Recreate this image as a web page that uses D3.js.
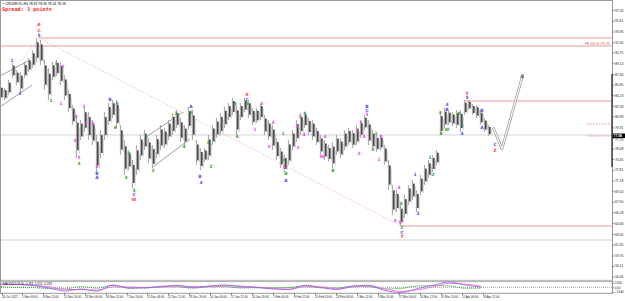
<!DOCTYPE html>
<html><head><meta charset="utf-8">
<script src="https://cdn.jsdelivr.net/npm/d3@7/dist/d3.min.js"></script>
<style>
body{margin:0;background:#fff;}
svg{display:block;font-family:"DejaVu Sans",sans-serif;}
</style>
</head><body>
<svg id="c" width="625" height="301"></svg>
<script>
// ---------- DATA ----------
const symbolInfo = "CRUDEOIL,H4  78.33 78.36 78.24 78.28";
const spreadText = "Spread: 3 points";
const barHigh = [85.79,85.33,86.55,89.15,88.08,87.77,89.30,89.92,91.14,92.98,92.67,89.61,88.39,89.30,89.61,89.30,87.32,85.02,82.73,81.20,
80.43,82.27,81.65,80.43,78.14,78.90,81.65,83.03,83.49,83.49,79.67,77.37,75.84,74.31,76.61,78.14,78.90,77.68,76.61,78.14,
79.67,79.21,80.43,81.50,81.96,80.74,79.67,82.42,81.96,77.37,76.15,76.15,78.14,79.67,80.74,81.50,82.42,83.03,83.80,82.73,
83.03,83.80,83.49,82.27,82.27,83.03,81.20,80.43,79.67,77.68,76.15,75.08,77.37,78.90,80.43,81.50,81.65,80.74,80.43,79.21,
78.14,77.37,76.61,77.06,78.14,77.68,78.90,79.21,78.90,79.67,80.43,81.20,80.43,78.90,78.14,78.14,76.61,74.31,70.49,69.72,
67.43,68.96,70.49,71.25,69.72,72.02,73.55,74.31,75.08,75.84,81.65,82.27,81.96,81.65,81.96,81.96,83.49,83.49,82.88,82.73,
81.96,80.74,79.67];
const barLow = [83.49,83.49,84.26,86.86,85.79,84.71,86.86,87.77,88.39,89.30,88.85,85.02,83.49,86.55,87.16,85.79,83.49,81.65,79.67,74.62,
77.37,78.59,77.37,76.61,72.47,74.62,77.37,79.67,80.74,79.21,75.08,72.02,72.78,70.03,72.02,74.31,75.84,73.85,73.09,74.62,
75.84,76.15,77.37,78.14,79.21,77.06,76.61,78.90,77.37,73.55,72.78,74.00,74.31,76.61,77.68,78.14,79.21,80.43,81.20,78.14,
80.43,81.65,80.74,79.67,79.97,80.43,78.14,77.37,75.84,74.31,73.09,72.47,73.55,75.84,77.06,78.14,79.21,78.14,77.37,76.61,
75.08,74.31,74.00,73.09,75.08,74.62,75.84,76.61,76.15,76.61,77.68,78.90,76.61,75.84,75.53,75.84,73.55,69.72,65.90,66.35,
64.21,65.44,67.43,68.19,66.35,68.96,70.49,71.56,72.47,73.55,78.14,79.21,79.67,79.51,79.21,78.59,81.20,81.96,81.20,80.74,
79.67,78.59,77.98];
const priceTicks = [97.26,95.61,93.96,92.30,90.75,89.13,87.46,85.85,84.23,82.58,80.98,79.31,77.70,76.08,74.45,72.81,71.18,69.54,67.90,66.28,64.66,63.00,61.35,59.70,58.11,56.46];
const currentPrice = 77.98;
const dateLabels = ["24 Oct 2022","1 Nov 04:00","8 Nov 12:00","15 Nov 20:00","23 Nov 04:00","30 Nov 12:00","7 Dec 20:00","15 Dec 04:00","22 Dec 12:00","29 Dec 20:00","10 Jan 04:00","17 Jan 12:00","24 Jan 20:00","1 Feb 04:00","8 Feb 12:00","15 Feb 20:00","23 Feb 04:00","2 Mar 12:00","9 Mar 20:00","17 Mar 04:00","24 Mar 12:00","31 Mar 20:00","11 Apr 04:00","18 Apr 12:00"];
const dateAt = [0.25,5.25,10.5,15.75,21,26.25,31.5,36.5,41.75,47,52.25,57.5,62.75,68,73.25,78.5,83.75,89,94.25,99.5,104.75,110,115.25,120.5];
// MACD every 4 bars
const macdMain = [1.85,1.57,1.0,-0.39,-2.08,-0.95,-2.08,1.29,-0.39,-0.39,0.45,1.12,-0.11,0.73,1.29,0.34,-0.11,-0.95,-1.24,1.12,-0.11,-1.24,0.73,1.12,-1.80,-2.92,-0.79,1.12,2.98,1.29,0.17];
const macdSignal = [1.5,1.7,1.2,0.3,-1.2,-1.3,-1.6,0.2,0.2,-0.3,0.1,0.8,0.4,0.4,0.9,0.7,0.1,-0.6,-1.1,0.3,0.2,-0.8,0.1,0.8,-0.9,-2.3,-1.5,0.2,2.2,1.8,0.6];
const macdTicks = [2.640, 0, -2.640];
const macdInfo = "MACD(12,26,9) -0.784 -0.451 -0.333";
// Wave labels: text, bar index, price, degree
const waveText  = ["A","C","5","1","2","1","2","1","1","4","2","3","5","3","4","5","5","B","A","B","3","4","3","4","5","C","W","1","2","3","4","A","5","B","3","1","2","3","4","X","C","5","1","2","4","3","1","2","5","B","A","1","2","3","4","5","4","W","B","1","2","3","4","B","C","5","1","2","3","1","4","3","5","4","C","C","Y","1","2","1","2","3","4","3","B","W","B","1","4","Y","5","B","A","C","Z"];
const waveBar   = [9.5,9.5,9.5,2.75,4.75,13.75,15.5,12.5,15,18.75,20.75,18.5,19.5,19.5,23,21.25,24,24,24,27.25,29,28.5,31.25,32,33.25,33.25,33.25,36.25,38,43.75,45.75,47.5,47.5,49.75,50,51.75,52.5,58.5,59,61.5,61.5,61.5,63.5,65.25,68,67,70.5,70.5,70.75,71.25,71.25,74,74.25,74.75,75.75,76,81,80.25,83,89,89.5,90,90.75,91.5,91.5,91.5,93.75,93,95,94.5,99.5,98.5,99.75,100,100.25,100.25,100.25,103.5,104.25,107.25,108,109.75,110,111.5,111.5,111.5,114.5,115.25,115.25,116.5,116.5,120.25,120.25,123.5,123.5];
const wavePrice = [94.97,94.20,93.43,89.61,84.41,89.00,88.54,83.34,83.03,80.89,82.42,77.22,74.62,73.85,79.97,79.97,73.24,72.32,71.56,83.64,83.03,79.21,71.56,75.38,69.57,68.96,68.34,77.98,72.78,81.35,76.30,82.42,81.65,71.86,70.94,77.06,73.39,82.88,77.83,84.26,83.64,83.03,79.05,82.88,80.12,76.30,78.44,74.31,73.09,72.17,71.25,79.36,76.15,80.89,78.14,81.50,77.83,74.77,72.63,78.75,75.38,80.12,77.83,82.42,81.81,81.20,78.29,75.99,77.83,74.46,70.03,65.13,64.82,67.73,63.91,63.29,62.53,72.02,66.20,74.62,72.02,81.65,78.44,82.73,82.11,79.05,81.50,79.67,78.29,84.56,83.80,81.81,79.21,76.61,75.84];
const waveDeg   = ["r","r","b","b","b","g","m","g","m","m","m","m","m","g","m","m","m","b","b","b","g","g","g","g","g","b","r","g","g","g","g","b","g","b","b","g","g","g","g","r","b","g","m","m","m","m","g","g","m","g","b","m","m","m","m","g","m","m","g","m","m","m","m","b","b","m","g","g","m","m","m","m","m","g","g","b","r","b","b","g","g","g","g","b","b","g","g","g","b","r","b","b","b","b","r"];
// Horizontal levels / drawings (price units, bar units)
const peakBar = 9.5, peakPrice = 92.98;
const lowBar = 100, lowPrice = 64.21;
const recentHighBar = 116, recentHighPrice = 83.34;
const feLevel = 91.75, feText = "FE 161.8 | 91.75";
const greyLevels = [78.14, 62.07];
const markerLevels = [79.82, 77.98];
const channelLines = [
  [[-0.25,87.16],[7.25,89.61]], [[-0.25,82.42],[7.75,85.79]],
  [[36.25,77.83],[45.5,81.65]], [[38,73.24],[47.25,77.52]]
];
const leftDotted = [[9.5,92.98],[2.25,87.32]];
const projection = [[123,79.36],[125.25,75.99],[130.5,87.47]];

// ---------- DRAW ----------
const svg = d3.select("#c");
const W = 625, H = 301, axisX = 612, panelBottom = 280.5;
const x = d3.scaleLinear().domain([0,122]).range([1,489]);
const y = d3.scaleLinear().domain([97.26,56.46]).range([10,276.67]);
const ym = d3.scaleLinear().domain([2.64,-2.64]).range([282.6,292]);
const degColor = {r:"#ff4040", b:"#4a4af5", g:"#2e9e2e", m:"#f040f0"};

svg.append("rect").attr("width",W).attr("height",H).attr("fill","#fff");
const defs = svg.append("defs");
defs.append("clipPath").attr("id","pc").append("rect").attr("x",1).attr("y",1).attr("width",axisX-1).attr("height",panelBottom-1);
defs.append("clipPath").attr("id","mc").append("rect").attr("x",1).attr("y",281.5).attr("width",axisX-1).attr("height",11.5);

const main = svg.append("g").attr("clip-path","url(#pc)");
const lineG = (a,b,c,s,w,dash)=>main.append("line").attr("x1",a[0]).attr("y1",a[1]).attr("x2",b[0]).attr("y2",b[1])
   .attr("stroke",c).attr("stroke-width",w).attr("stroke-dasharray",dash||null);

greyLevels.forEach(p=>lineG([1,y(p)],[axisX,y(p)],"#c8c8c8",0,0.8));
const red = "#e89a9a";
lineG([x(peakBar),y(peakPrice)],[axisX,y(peakPrice)],red,0,1);
lineG([1,y(feLevel)],[axisX,y(feLevel)],red,0,1);
lineG([x(recentHighBar),y(recentHighPrice)],[axisX,y(recentHighPrice)],red,0,1);
lineG([x(lowBar),y(lowPrice)],[axisX,y(lowPrice)],red,0,1);
markerLevels.forEach(p=>lineG([587,y(p)],[axisX,y(p)],"#f07070",0,0.8,"1.5,1.5"));
main.append("text").attr("x",axisX-2).attr("y",y(feLevel)-0.6).attr("text-anchor","end")
  .attr("font-size",3.4).attr("fill","#d05050").attr("font-family","'Liberation Sans',sans-serif").text(feText);
lineG([x(peakBar),y(peakPrice)],[x(lowBar),y(lowPrice)],"#e89a9a",0,0.9,"1,2");
lineG([x(leftDotted[0][0]),y(leftDotted[0][1])],[x(leftDotted[1][0]),y(leftDotted[1][1])],"#e89a9a",0,0.9,"1,2");
channelLines.forEach(l=>lineG([x(l[0][0]),y(l[0][1])],[x(l[1][0]),y(l[1][1])],"#777",0,0.7));

// bars: wick (full range) + body (inner part of the range)
const bars = main.append("g");
barHigh.forEach((h,i)=>{
  const l = barLow[i], yh = y(h), yl = y(l), r = yl - yh;
  bars.append("line").attr("x1",x(i)-0.6).attr("x2",x(i)-0.6).attr("y1",yh).attr("y2",yl)
    .attr("stroke","#8a8a8a").attr("stroke-width",0.8);
  bars.append("rect").attr("x",x(i)).attr("y",yh + r*0.18).attr("width",1.7).attr("height",Math.max(1,r*0.64))
    .attr("fill","#4a4a4a");
  bars.append("line").attr("x1",x(i)+2.3).attr("x2",x(i)+2.3).attr("y1",yh + r*0.3).attr("y2",yl - r*0.1)
    .attr("stroke","#b0b0b0").attr("stroke-width",0.6);
});

const pline = d3.line().x(d=>x(d[0])).y(d=>y(d[1]));
main.append("path").attr("d",pline(projection)).attr("fill","none").attr("stroke","#9a9a9a").attr("stroke-width",2.6).attr("stroke-linejoin","round");
main.append("path").attr("d",pline(projection)).attr("fill","none").attr("stroke","#fff").attr("stroke-width",1.1).attr("stroke-linejoin","round");
{
  const a = projection[1], b = projection[2];
  const ex = x(b[0]), ey = y(b[1]);
  const ang = Math.atan2(ey - y(a[1]), ex - x(a[0]));
  const L = 4, Wd = 2.2;
  const p1 = [ex - L*Math.cos(ang) + Wd*Math.sin(ang), ey - L*Math.sin(ang) - Wd*Math.cos(ang)];
  const p2 = [ex - L*Math.cos(ang) - Wd*Math.sin(ang), ey - L*Math.sin(ang) + Wd*Math.cos(ang)];
  main.append("path").attr("d",`M${ex},${ey}L${p1}L${p2}Z`).attr("fill","#777");
}

main.append("g").selectAll("text").data(waveText).join("text")
  .attr("x",(d,i)=>x(waveBar[i])).attr("y",(d,i)=>y(wavePrice[i]))
  .attr("text-anchor","middle").attr("dominant-baseline","central")
  .attr("font-size",4.4).attr("font-weight","bold")
  .attr("fill",(d,i)=>degColor[waveDeg[i]]).text(d=>d);

svg.append("text").attr("x",3).attr("y",5).attr("font-size",3.4).attr("fill","#000").attr("font-family","'Liberation Sans',sans-serif").text("▪ "+symbolInfo);
svg.append("text").attr("x",2).attr("y",10.5).attr("font-size",5.2).attr("font-weight","bold")
  .attr("font-family","'DejaVu Sans Mono',monospace").attr("fill","#ff2020").text(spreadText);

svg.append("rect").attr("x",0.5).attr("y",0.5).attr("width",axisX).attr("height",292.8).attr("fill","none").attr("stroke","#999").attr("stroke-width",1);
svg.append("line").attr("x1",0).attr("x2",axisX).attr("y1",280.3).attr("y2",280.3).attr("stroke","#999").attr("stroke-width",0.8);
svg.append("line").attr("x1",0).attr("x2",axisX).attr("y1",281.6).attr("y2",281.6).attr("stroke","#999").attr("stroke-width",0.8);
svg.append("rect").attr("x",axisX-0.8).attr("y",74).attr("width",1.8).attr("height",93).attr("fill","#555");

const boxTop = y(currentPrice)-2.5, boxBottom = y(currentPrice)+2.1;
const ya = d3.axisRight(y).tickValues(priceTicks).tickSize(1.8).tickFormat(d3.format(".2f"));
const yag = svg.append("g").attr("transform",`translate(${axisX+0.5},0)`).call(ya);
yag.select(".domain").remove();
yag.selectAll("line").attr("stroke","#333").attr("stroke-width",0.6);
yag.selectAll("text").attr("font-size",3.4).attr("fill","#222").attr("x",2.4).attr("font-family","'Liberation Sans',sans-serif")
  .attr("dy",d=>{ const p=y(d); return (p>boxTop-2 && p<boxBottom+2) ? (boxBottom+2.0-p)+"px" : "0.32em"; });
svg.append("rect").attr("x",axisX+0.5).attr("y",boxTop).attr("width",12.5).attr("height",boxBottom-boxTop).attr("fill","#000");
svg.append("text").attr("x",axisX+1.5).attr("y",(boxTop+boxBottom)/2).attr("dominant-baseline","central")
  .attr("font-size",3.4).attr("font-weight","bold").attr("fill","#fff").attr("font-family","'Liberation Sans',sans-serif").text(currentPrice.toFixed(2));

const mg = svg.append("g").attr("clip-path","url(#mc)");
const mx = (d,i)=>x(i*4);
mg.append("line").attr("x1",1).attr("x2",axisX).attr("y1",ym(0)).attr("y2",ym(0)).attr("stroke","#666").attr("stroke-width",0.6).attr("stroke-dasharray","1,1");
mg.append("path").attr("d",d3.line().x(mx).y((d,i)=>ym(macdMain[i]-macdSignal[i])).curve(d3.curveMonotoneX)(macdMain))
  .attr("fill","none").attr("stroke","#2e9e2e").attr("stroke-width",0.9).attr("stroke-dasharray","1.2,0.8");
mg.append("path").attr("d",d3.line().x(mx).y(d=>ym(d)).curve(d3.curveMonotoneX)(macdSignal))
  .attr("fill","none").attr("stroke","#ff66cc").attr("stroke-width",0.8);
mg.append("path").attr("d",d3.line().x(mx).y(d=>ym(d)).curve(d3.curveMonotoneX)(macdMain))
  .attr("fill","none").attr("stroke","#8a5cf5").attr("stroke-width",0.8);
svg.append("text").attr("x",3).attr("y",285).attr("font-size",3.0).attr("fill","#222").attr("font-family","'Liberation Sans',sans-serif").text(macdInfo);
const ma = d3.axisRight(ym).tickValues(macdTicks).tickSize(1.5).tickFormat(d=>d===0?"0.00":d3.format(".3f")(d));
const mag = svg.append("g").attr("transform",`translate(${axisX+0.5},0)`).call(ma);
mag.select(".domain").remove();
mag.selectAll("line").attr("stroke","#333").attr("stroke-width",0.6);
mag.selectAll("text").attr("font-size",2.9).attr("fill","#222").attr("x",2.2).attr("font-family","'Liberation Sans',sans-serif");

const xa = d3.axisBottom(x).tickValues(dateAt).tickSize(1.8).tickFormat((d,i)=>dateLabels[i]);
const xag = svg.append("g").attr("transform","translate(0,293.3)").call(xa);
xag.select(".domain").remove();
xag.selectAll("line").attr("stroke","#333").attr("stroke-width",0.6);
xag.selectAll("text").attr("font-size",2.9).attr("fill","#222").attr("text-anchor","start").attr("dx",-0.5).attr("y",2.4)
  .attr("font-family","'Liberation Sans',sans-serif");
</script>
</body></html>
